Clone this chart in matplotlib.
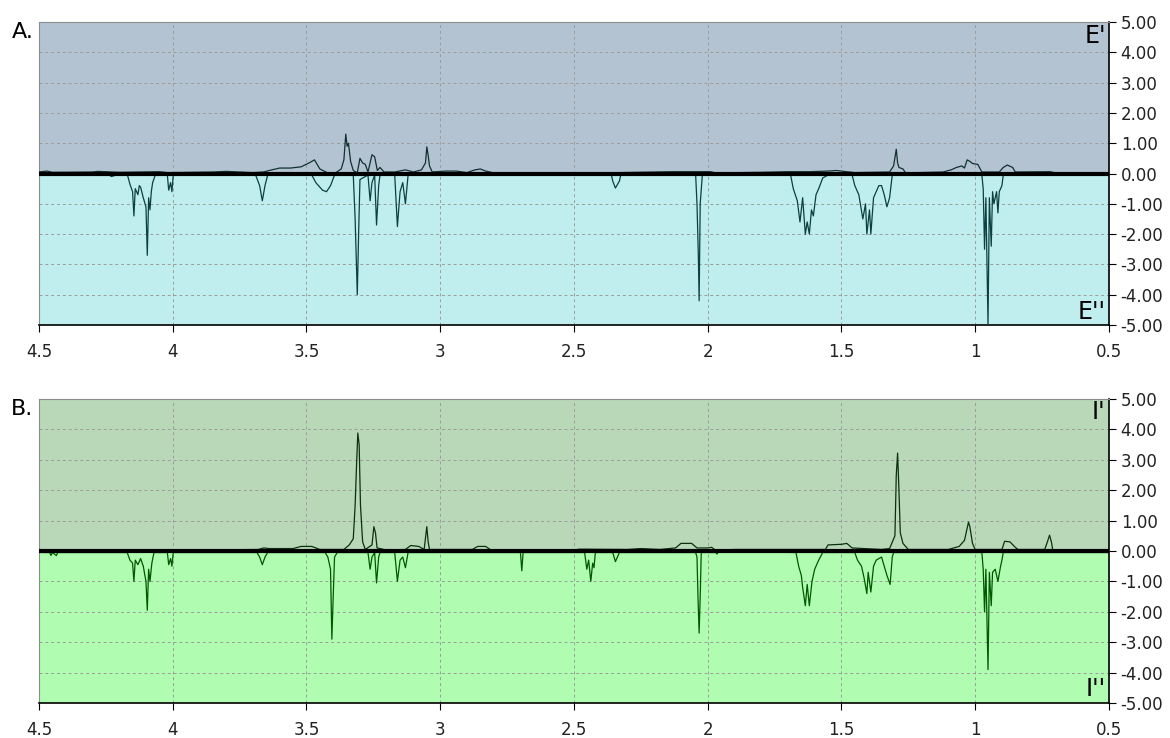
import numpy as np
import matplotlib

matplotlib.use('Agg')
import matplotlib.pyplot as plt
from matplotlib.ticker import FormatStrFormatter, MultipleLocator

# panel A, E' (positive part)
ea_x = [4.50, 4.47, 4.45, 4.30, 4.28, 4.20, 4.05, 4.02, 3.85, 3.80, 3.70, 3.66, 3.63, 3.60,
        3.56, 3.52, 3.49, 3.47, 3.45, 3.42, 3.39, 3.37, 3.36, 3.353, 3.348, 3.343, 3.335,
        3.325, 3.31, 3.30, 3.29, 3.28, 3.27, 3.255, 3.245, 3.235, 3.225, 3.21, 3.17, 3.13,
        3.10, 3.07, 3.055, 3.05, 3.045, 3.04, 3.03, 2.98, 2.94, 2.90, 2.87, 2.85, 2.83, 2.80,
        2.40, 2.13, 2.07, 1.99, 1.97, 1.80, 1.70, 1.62, 1.55, 1.52, 1.45, 1.32, 1.305, 1.295,
        1.29, 1.285, 1.27, 1.26, 1.12, 1.09, 1.07, 1.05, 1.04, 1.03, 1.02, 1.01, 0.99, 0.975,
        0.91, 0.895, 0.88, 0.86, 0.85, 0.72, 0.70, 0.50]
ea_y = [0.05, 0.08, 0.04, 0.05, 0.07, 0.04, 0.06, 0.03, 0.05, 0.07, 0.03, 0.05, 0.12, 0.18,
        0.18, 0.22, 0.35, 0.45, 0.15, 0.02, 0.03, 0.15, 0.45, 1.30, 0.90, 1.00, 0.40,
        0.10, 0.02, 0.50, 0.35, 0.30, 0.05, 0.62, 0.55, 0.10, 0.20, 0.05, 0.05, 0.12,
        0.05, 0.12, 0.35, 0.88, 0.60, 0.25, 0.05, 0.08, 0.08, 0.03, 0.12, 0.15, 0.08, 0.02,
        0.02, 0.06, 0.06, 0.06, 0.02, 0.04, 0.06, 0.06, 0.08, 0.10, 0.03, 0.05, 0.25, 0.80,
        0.35, 0.20, 0.15, 0.02, 0.05, 0.12, 0.20, 0.25, 0.18, 0.45, 0.40, 0.33, 0.30, 0.05,
        0.05, 0.20, 0.28, 0.20, 0.05, 0.06, 0.02, 0.02]

# panel A, E'' (negative part)
eb_x = [4.50, 4.24, 4.23, 4.21, 4.17, 4.16, 4.15, 4.145, 4.14, 4.13, 4.125, 4.12, 4.11, 4.10,
        4.095, 4.09, 4.085, 4.08, 4.075, 4.065, 4.02, 4.015, 4.008, 4.003, 3.998, 3.69,
        3.675, 3.665, 3.655, 3.645, 3.48, 3.465, 3.44, 3.425, 3.41, 3.395, 3.325, 3.318,
        3.31, 3.305, 3.30, 3.27, 3.262, 3.255, 3.245, 3.238, 3.23, 3.225, 3.17, 3.16, 3.15,
        3.14, 3.13, 3.12, 2.36, 2.355, 2.345, 2.33, 2.325, 2.045, 2.04, 2.035, 2.032, 2.028,
        2.02, 1.69, 1.68, 1.665, 1.655, 1.645, 1.635, 1.628, 1.62, 1.612, 1.605, 1.595,
        1.585, 1.57, 1.55, 1.46, 1.45, 1.435, 1.42, 1.41, 1.405, 1.395, 1.39, 1.38, 1.37,
        1.36, 1.35, 1.34, 1.33, 1.32, 1.31, 0.975, 0.97, 0.965, 0.96, 0.952, 0.947, 0.94,
        0.935, 0.93, 0.92, 0.915, 0.91, 0.90, 0.895, 0.50]
eb_y = [-0.02, -0.02, -0.10, -0.05, -0.02, -0.35, -0.60, -1.40, -0.50, -0.70, -0.40, -0.45,
        -0.80, -1.10, -2.70, -0.80, -1.20, -0.60, -0.30, -0.05, -0.05, -0.55, -0.30, -0.60,
        -0.05, -0.05, -0.40, -0.90, -0.40, -0.05, -0.05, -0.30, -0.55, -0.60, -0.40, -0.05,
        -0.05, -1.50, -4.00, -2.00, -0.20, -0.05, -0.90, -0.30, -0.05, -1.70, -0.40, -0.05,
        -0.05, -1.75, -0.60, -0.30, -1.00, -0.05, -0.05, -0.25, -0.48, -0.25, -0.05, -0.05,
        -1.00, -2.70, -4.20, -1.00, -0.05, -0.05, -0.50, -0.90, -1.60, -0.80, -2.00, -1.60,
        -2.00, -1.20, -1.40, -0.70, -0.50, -0.15, -0.05, -0.05, -0.40, -0.70, -1.50, -1.00,
        -2.00, -1.20, -2.00, -0.80, -0.60, -0.40, -0.40, -0.70, -1.10, -0.80, -0.05, -0.05,
        -0.50, -2.50, -0.80, -5.00, -0.80, -2.40, -0.60, -1.00, -0.60, -1.30, -0.60, -0.40,
        -0.05, -0.02]

# panel B, I' (positive part)
ia_x = [4.50, 4.40, 4.20, 4.00, 3.90, 3.80, 3.68, 3.66, 3.64, 3.55, 3.52, 3.48, 3.45, 3.36,
        3.34, 3.325, 3.318, 3.312, 3.308, 3.303, 3.298, 3.29, 3.28, 3.255, 3.248, 3.242,
        3.236, 3.20, 3.13, 3.11, 3.08, 3.06, 3.05, 3.045, 3.04, 2.88, 2.86, 2.83, 2.81, 2.50,
        2.48, 2.30, 2.25, 2.18, 2.12, 2.10, 2.06, 2.04, 2.00, 1.985, 1.97, 1.90, 1.80, 1.70,
        1.56, 1.55, 1.50, 1.48, 1.46, 1.35, 1.32, 1.30, 1.295, 1.29, 1.285, 1.28, 1.27,
        1.25, 1.10, 1.06, 1.04, 1.025, 1.02, 1.01, 1.00, 0.90, 0.89, 0.87, 0.85, 0.84, 0.74,
        0.73, 0.722, 0.715, 0.71, 0.50]
ia_y = [0.03, 0.02, 0.04, 0.04, 0.03, 0.04, 0.05, 0.10, 0.08, 0.08, 0.15, 0.15, 0.05, 0.05,
        0.20, 0.40, 1.50, 3.00, 3.88, 3.50, 1.50, 0.30, 0.05, 0.20, 0.80, 0.60,
        0.10, 0.03, 0.05, 0.18, 0.15, 0.05, 0.80, 0.30, 0.05, 0.05, 0.15, 0.15, 0.03, 0.03,
        0.06, 0.05, 0.08, 0.05, 0.10, 0.25, 0.25, 0.10, 0.10, 0.12, 0.02, 0.05, 0.05, 0.05,
        0.05, 0.20, 0.22, 0.25, 0.10, 0.05, 0.08, 0.50, 2.50, 3.22, 2.00, 0.60, 0.25,
        0.05, 0.05, 0.15, 0.35, 0.95, 0.80, 0.25, 0.05, 0.05, 0.32, 0.30, 0.12, 0.05, 0.05,
        0.30, 0.52, 0.30, 0.03, 0.03]

# panel B, I'' (negative part)
ib_x = [4.50, 4.46, 4.455, 4.45, 4.435, 4.43, 4.17, 4.16, 4.15, 4.145, 4.14, 4.13, 4.12,
        4.11, 4.10, 4.095, 4.09, 4.085, 4.078, 4.07, 4.02, 4.015, 4.008, 4.003, 3.998, 3.685,
        3.675, 3.665, 3.655, 3.645, 3.43, 3.42, 3.41, 3.405, 3.40, 3.395, 3.385, 3.27, 3.262,
        3.255, 3.245, 3.238, 3.23, 3.225, 3.17, 3.16, 3.15, 3.14, 3.13, 3.12, 2.70, 2.695,
        2.69, 2.46, 2.452, 2.445, 2.437, 2.43, 2.425, 2.42, 2.355, 2.345, 2.33, 2.045, 2.04,
        2.036, 2.032, 2.028, 2.024, 1.97, 1.965, 1.96, 1.67, 1.66, 1.65, 1.645, 1.635, 1.628,
        1.62, 1.61, 1.60, 1.585, 1.57, 1.45, 1.44, 1.425, 1.415, 1.405, 1.40, 1.39, 1.38,
        1.37, 1.35, 1.34, 1.33, 1.318, 1.31, 1.305, 0.975, 0.97, 0.965, 0.96, 0.952, 0.947,
        0.94, 0.935, 0.925, 0.915, 0.905, 0.90, 0.895, 0.50]
ib_y = [-0.05, -0.05, -0.15, -0.05, -0.15, -0.05, -0.05, -0.30, -0.40, -1.00, -0.30, -0.45,
        -0.25, -0.50, -1.00, -1.95, -0.60, -1.00, -0.40, -0.05, -0.05, -0.45, -0.25, -0.50,
        -0.05, -0.05, -0.20, -0.45, -0.20, -0.05, -0.05, -0.20, -0.60, -2.90, -1.50, -0.20,
        -0.05, -0.05, -0.60, -0.20, -0.05, -1.05, -0.20, -0.05, -0.05, -1.00, -0.30, -0.20,
        -0.55, -0.05, -0.05, -0.65, -0.05, -0.05, -0.60, -0.30, -1.00, -0.40, -0.55, -0.05,
        -0.05, -0.35, -0.05, -0.05, -0.20, -1.60, -2.70, -1.50, -0.05, -0.05, -0.10, -0.02,
        -0.05, -0.50, -0.80, -1.20, -1.80, -1.10, -1.80, -1.00, -0.60, -0.30, -0.05, -0.05,
        -0.30, -0.50, -0.90, -1.40, -0.70, -1.35, -0.50, -0.30, -0.20, -0.50, -0.80, -1.10,
        -0.20, -0.05, -0.05, -0.60, -2.00, -0.60, -3.90, -0.70, -1.80, -0.70, -0.60, -1.00,
        -0.50, -0.30, -0.05, -0.05]

x_ticks = [4.5, 4, 3.5, 3, 2.5, 2, 1.5, 1, 0.5]
y_ticks = [5, 4, 3, 2, 1, 0, -1, -2, -3, -4, -5]

plt.rcParams['font.family'] = ['DejaVu Sans']


def panel(ax, pos, neg, top_col, bot_col, pos_col, neg_col, letter, up_lab, low_lab):
    ax.axhspan(0, 5, color=top_col, zorder=0)
    ax.axhspan(-5, 0, color=bot_col, zorder=0)
    ax.grid(True, color='#9c9c9c', linestyle=(0, (3, 3)), linewidth=0.7)
    ax.set_axisbelow(True)
    ax.plot(pos[0], pos[1], color=pos_col, linewidth=0.9, zorder=3)
    ax.plot(neg[0], neg[1], color=neg_col, linewidth=0.9, zorder=3)
    ax.axhline(0, color='black', linewidth=3, zorder=4)
    ax.set_xlim(4.5, 0.5)
    ax.set_ylim(-5, 5)
    ax.set_xticks(x_ticks)
    ax.set_yticks(y_ticks)
    ax.xaxis.set_major_formatter(FormatStrFormatter('%g'))
    ax.yaxis.set_major_formatter(FormatStrFormatter('%.2f'))
    ax.yaxis.tick_right()
    ax.tick_params(axis='both', labelsize=12, direction='out', length=5, color='black',
                   labelcolor='#222222')
    ax.tick_params(axis='x', pad=8)
    for s in ['top', 'left']:
        ax.spines[s].set_color('#8c8c8c')
    for s in ['bottom', 'right']:
        ax.spines[s].set_color('black')
        ax.spines[s].set_linewidth(1.2)
    ax.text(-0.005, 1.0, letter, transform=ax.transAxes, ha='right', va='top', fontsize=16)
    ax.text(0.997, 0.995, up_lab, transform=ax.transAxes, ha='right', va='top', fontsize=17)
    ax.text(0.997, 0.005, low_lab, transform=ax.transAxes, ha='right', va='bottom', fontsize=17)


fig = plt.figure(figsize=(11.7, 7.38), dpi=100)
ax1 = fig.add_axes([0.0333, 0.5596, 0.9145, 0.4106])
ax2 = fig.add_axes([0.0333, 0.0474, 0.9145, 0.4120])

panel(ax1, (ea_x, ea_y), (eb_x, eb_y), '#b4c3d2', '#c0eeee', '#10302f', '#0c4040',
      'A.', "E'", "E''")
panel(ax2, (ia_x, ia_y), (ib_x, ib_y), '#b8d8b8', '#b0fcb0', '#0c300c', '#005800',
      'B.', "I'", "I''")

plt.savefig('out.png', dpi=100)
